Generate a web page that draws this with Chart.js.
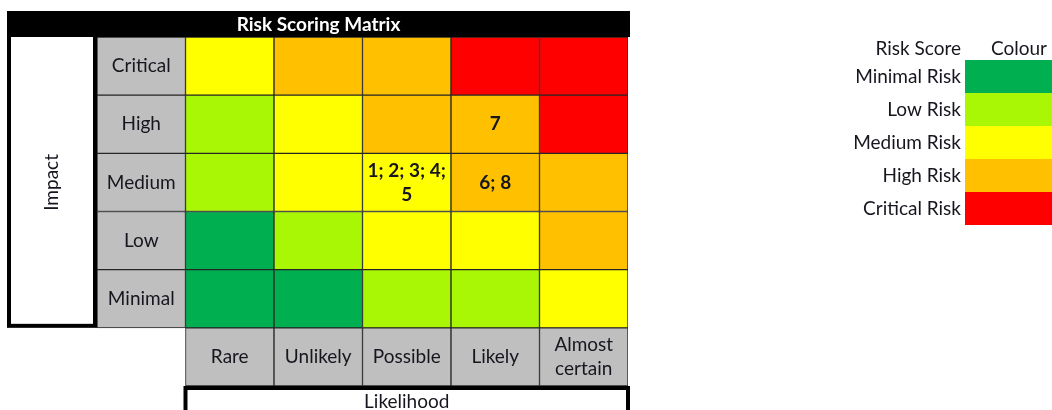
<!DOCTYPE html>
<html lang="en">
<head>
    <meta charset="UTF-8">
    <title>Risk Scoring Matrix</title>
    <script src="https://cdn.jsdelivr.net/npm/chart.js@4.4.1/dist/chart.umd.min.js"></script>
    <style>
        html, body { margin: 0; padding: 0; background: #fff; }
        canvas { display: block; }
    </style>
</head>
<body>
    <canvas id="matrix" width="1052" height="410"></canvas>

    <script>
        // Axis categories (impact listed bottom to top)
        const likelihoodLabels = ['Rare', 'Unlikely', 'Possible', 'Likely', 'Almost certain'];
        const impactLabels = ['Minimal', 'Low', 'Medium', 'High', 'Critical'];

        // Risk score levels and their colours
        const riskLevels = ['Minimal Risk', 'Low Risk', 'Medium Risk', 'High Risk', 'Critical Risk'];
        const riskColours = ['#00B050', '#AAF705', '#FFFF00', '#FFC000', '#FF0000'];

        // Risk level index of each cell, Rare -> Almost certain
        const scoreMinimal  = [0, 0, 1, 1, 2];
        const scoreLow      = [0, 1, 2, 2, 3];
        const scoreMedium   = [1, 2, 2, 3, 3];
        const scoreHigh     = [1, 2, 3, 3, 4];
        const scoreCritical = [2, 3, 3, 4, 4];

        // Risk ids placed in the cells
        const risksMinimal  = ['', '', '', '', ''];
        const risksLow      = ['', '', '', '', ''];
        const risksMedium   = ['', '', '1; 2; 3; 4; 5', '6; 8', ''];
        const risksHigh     = ['', '', '', '7', ''];
        const risksCritical = ['', '', '', '', ''];

        const scoreRows = [scoreMinimal, scoreLow, scoreMedium, scoreHigh, scoreCritical];
        const riskRows = [risksMinimal, risksLow, risksMedium, risksHigh, risksCritical];

        const FONT = "Lato, 'Open Sans', sans-serif";
        const GREY = '#BFBFBF';
        const INK = '#16161e';

        // bottom row holds the likelihood labels, first column the impact labels
        const datasets = [{
            label: 'Likelihood',
            data: [1, 1, 1, 1, 1, 1],
            backgroundColor: ['rgba(0,0,0,0)', ...likelihoodLabels.map(() => GREY)],
            borderWidth: [0, 1, 1, 1, 1, 1],
            texts: ['', ...likelihoodLabels]
        }];
        impactLabels.forEach((name, r) => {
            datasets.push({
                label: name,
                data: [1, 1, 1, 1, 1, 1],
                backgroundColor: [GREY, ...scoreRows[r].map(s => riskColours[s])],
                borderWidth: 1,
                texts: [name, ...riskRows[r]]
            });
        });

        function drawWrapped(ctx, text, x, cy, maxW, lineH) {
            const words = text.split(' ');
            const lines = [];
            let line = '';
            words.forEach(w => {
                const test = line ? line + ' ' + w : w;
                if (line && ctx.measureText(test).width > maxW) {
                    lines.push(line);
                    line = w;
                } else {
                    line = test;
                }
            });
            lines.push(line);
            ctx.textAlign = 'center';
            ctx.textBaseline = 'middle';
            lines.forEach((l, k) => ctx.fillText(l, x, cy + (k - (lines.length - 1) / 2) * lineH));
        }

        const matrixDecor = {
            id: 'matrixDecor',
            afterDatasetsDraw(chart) {
                const ctx = chart.ctx;
                const area = chart.chartArea;
                const yScale = chart.scales.y;
                ctx.save();

                // texts inside the cells
                chart.data.datasets.forEach((ds, d) => {
                    chart.getDatasetMeta(d).data.forEach((bar, i) => {
                        const t = ds.texts[i];
                        if (!t) return;
                        const p = bar.getProps(['x', 'y', 'base', 'width'], true);
                        const bold = d > 0 && i > 0;
                        ctx.font = (bold ? 'bold ' : '') + '19px ' + FONT;
                        ctx.fillStyle = INK;
                        drawWrapped(ctx, t, p.x, (p.y + p.base) / 2, p.width - 6, 24);
                    });
                });

                // title bar
                ctx.fillStyle = '#000';
                ctx.fillRect(7, 11, area.right + 2 - 7, area.top - 11);
                ctx.fillStyle = '#fff';
                ctx.font = 'bold 19px ' + FONT;
                ctx.textAlign = 'center';
                ctx.textBaseline = 'middle';
                ctx.fillText('Risk Scoring Matrix', (7 + area.right + 2) / 2, (11 + area.top) / 2 + 1);

                // impact box
                const boxBottom = yScale.getPixelForValue(1);
                ctx.strokeStyle = '#000';
                ctx.lineWidth = 4;
                ctx.strokeRect(9, area.top - 2, area.left - 2 - 9, boxBottom - 2 - (area.top - 2));
                ctx.save();
                ctx.translate(52, (area.top + boxBottom) / 2);
                ctx.rotate(-Math.PI / 2);
                ctx.fillStyle = INK;
                ctx.font = '19px ' + FONT;
                ctx.fillText('Impact', 0, 0);
                ctx.restore();

                // likelihood box
                const first = chart.getDatasetMeta(0).data[1];
                const lx = first.x - first.width / 2;
                ctx.strokeRect(lx, area.bottom + 2, area.right - lx, 40);
                ctx.fillStyle = INK;
                ctx.font = '19px ' + FONT;
                ctx.fillText('Likelihood', (lx + area.right) / 2, area.bottom + 16);

                // colour key
                ctx.textBaseline = 'middle';
                ctx.textAlign = 'right';
                ctx.fillText('Risk Score', 961, 49);
                ctx.textAlign = 'center';
                ctx.fillText('Colour', 1019, 49);
                riskLevels.forEach((lvl, i) => {
                    const top = 60 + i * 33;
                    ctx.fillStyle = riskColours[i];
                    ctx.fillRect(965, top, 87, 33);
                    ctx.fillStyle = INK;
                    ctx.textAlign = 'right';
                    ctx.fillText(lvl, 961, top + 17);
                });

                ctx.restore();
            }
        };

        new Chart(document.getElementById('matrix'), {
            type: 'bar',
            data: {
                labels: ['', ...likelihoodLabels],
                datasets: datasets
            },
            options: {
                responsive: false,
                animation: false,
                layout: { padding: { left: 97, right: 424, top: 37, bottom: 24 } },
                plugins: {
                    legend: { display: false },
                    tooltip: { enabled: false }
                },
                datasets: {
                    bar: {
                        categoryPercentage: 1,
                        barPercentage: 1,
                        borderColor: '#262626',
                        borderSkipped: false
                    }
                },
                scales: {
                    x: { display: false, stacked: true },
                    y: { display: false, stacked: true, min: 0, max: 6 }
                }
            },
            plugins: [matrixDecor]
        });
    </script>
</body>
</html>
